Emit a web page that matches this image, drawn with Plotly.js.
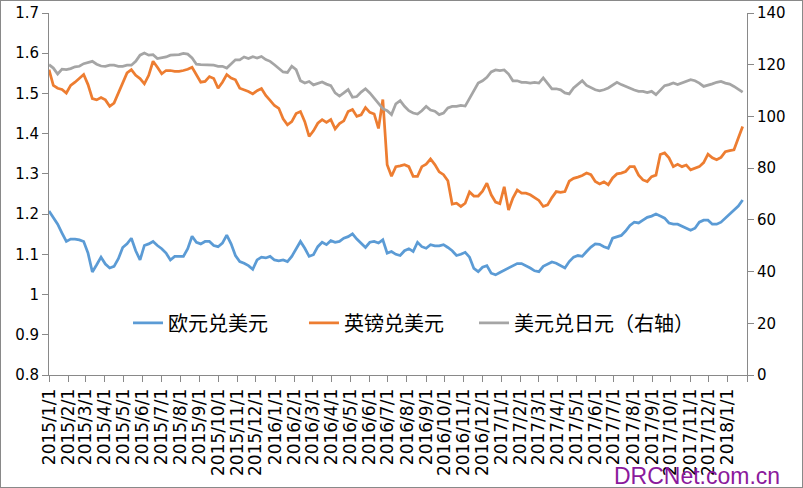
<!DOCTYPE html>
<html>
<head>
<meta charset="utf-8">
<script src="https://cdn.plot.ly/plotly-3.0.1.min.js"></script>
<style>
  html, body { margin: 0; padding: 0; background: #fff; }
  #wrap { position: relative; width: 803px; height: 488px; }
  #chart { width: 803px; height: 488px; }
  #frame { position: absolute; left: 0; top: 0; width: 803px; height: 488px;
           box-sizing: border-box; border: 1px solid #898989; pointer-events: none; }
</style>
</head>
<body>
<div id="wrap">
  <div id="chart"></div>
  <div id="frame"></div>
</div>
<script>
// weekly readings (every 7 days from 2015/1/1)
const eurUsd = [
  1.208, 1.192, 1.175, 1.153, 1.132, 1.138, 1.138, 1.136, 1.132, 1.103,
  1.056, 1.074, 1.093, 1.076, 1.066, 1.070, 1.089, 1.117, 1.126, 1.140,
  1.109, 1.086, 1.122, 1.126, 1.132, 1.122, 1.114, 1.103, 1.086, 1.095,
  1.095, 1.095, 1.114, 1.145, 1.130, 1.126, 1.132, 1.132, 1.122, 1.119,
  1.128, 1.148, 1.126, 1.097, 1.082, 1.078, 1.072, 1.063, 1.086, 1.093,
  1.091, 1.095, 1.086, 1.084, 1.086, 1.082, 1.095, 1.115, 1.132, 1.115,
  1.095, 1.099, 1.119, 1.130, 1.124, 1.134, 1.130, 1.132, 1.140, 1.144,
  1.151, 1.138, 1.128, 1.117, 1.130, 1.132, 1.128, 1.136, 1.103, 1.107,
  1.100, 1.097, 1.109, 1.114, 1.107, 1.130, 1.119, 1.115, 1.124, 1.121,
  1.121, 1.124, 1.117, 1.109, 1.097, 1.100, 1.105, 1.093, 1.065, 1.057,
  1.068, 1.072, 1.053, 1.049, 1.055, 1.061, 1.066, 1.072, 1.077, 1.077,
  1.072, 1.066, 1.059, 1.057, 1.070, 1.076, 1.081, 1.078, 1.072, 1.066,
  1.082, 1.093, 1.097, 1.095, 1.107, 1.118, 1.126, 1.125, 1.119, 1.115,
  1.140, 1.143, 1.147, 1.158, 1.172, 1.180, 1.178, 1.185, 1.192, 1.195,
  1.200, 1.195, 1.190, 1.178, 1.175, 1.175, 1.170, 1.165, 1.160, 1.165,
  1.180, 1.185, 1.185, 1.175, 1.175, 1.180, 1.190, 1.200, 1.210, 1.220,
  1.235
];

const gbpUsd = [
  1.559, 1.520, 1.513, 1.510, 1.501, 1.520, 1.528, 1.538, 1.547, 1.522,
  1.487, 1.484, 1.490, 1.484, 1.468, 1.476, 1.501, 1.522, 1.551, 1.559,
  1.545, 1.537, 1.524, 1.545, 1.580, 1.565, 1.549, 1.557, 1.557, 1.555,
  1.555, 1.557, 1.560, 1.565, 1.547, 1.528, 1.530, 1.542, 1.537, 1.513,
  1.528, 1.547, 1.538, 1.534, 1.513, 1.509, 1.505, 1.499, 1.507, 1.512,
  1.495, 1.483, 1.470, 1.463, 1.437, 1.422, 1.430, 1.450, 1.455, 1.430,
  1.393, 1.407, 1.426, 1.435, 1.428, 1.435, 1.412, 1.425, 1.432, 1.455,
  1.460, 1.443, 1.447, 1.465, 1.453, 1.449, 1.413, 1.485, 1.323, 1.294,
  1.318, 1.320, 1.323, 1.318, 1.294, 1.294, 1.318, 1.324, 1.337, 1.323,
  1.305, 1.298, 1.283, 1.225, 1.227, 1.219, 1.227, 1.255, 1.245, 1.245,
  1.257, 1.277, 1.248, 1.230, 1.226, 1.268, 1.210, 1.240, 1.260, 1.252,
  1.252, 1.248, 1.240, 1.234, 1.219, 1.223, 1.241, 1.256, 1.254, 1.256,
  1.282, 1.289, 1.292, 1.296, 1.302, 1.298, 1.281, 1.275, 1.280, 1.273,
  1.290, 1.300, 1.302, 1.306, 1.318, 1.318, 1.297, 1.285, 1.281, 1.293,
  1.297, 1.348, 1.352, 1.340, 1.318, 1.324, 1.318, 1.322, 1.310, 1.314,
  1.318, 1.328, 1.349, 1.340, 1.335, 1.341, 1.355, 1.358, 1.360, 1.389,
  1.418
];

const usdJpy = [
  120.0, 118.7, 116.4, 118.3, 118.1, 118.5, 119.2, 119.4, 120.4, 121.0,
  121.3, 120.2, 119.5, 119.4, 119.8, 119.8, 119.4, 119.4, 119.8, 119.8,
  121.3, 123.7, 124.5, 123.7, 123.9, 122.4, 122.6, 123.0, 123.7, 123.9,
  123.9, 124.4, 124.1, 122.6, 120.2, 120.0, 120.0, 120.0, 119.8, 119.4,
  119.4, 118.7, 120.5, 121.9, 121.9, 123.0, 122.4, 123.1, 122.6, 123.2,
  122.0, 121.3, 120.0, 118.7, 117.2, 117.0, 119.4, 118.1, 113.8, 112.9,
  113.5, 112.2, 112.9, 113.3, 112.5, 111.9, 109.1, 107.9, 109.1, 110.4,
  107.4, 107.7, 109.4, 110.7, 109.1, 107.1, 105.2, 103.0, 102.2, 100.7,
  104.9, 106.1, 103.9, 102.2, 101.3, 100.9, 102.2, 103.9, 102.5, 102.0,
  100.7, 101.3, 103.3, 103.9, 103.9, 104.3, 104.0, 106.8, 109.7, 112.9,
  113.8, 115.1, 117.2, 118.0, 117.7, 118.0, 116.4, 113.8, 113.8, 113.2,
  113.2, 112.9, 113.2, 112.9, 114.9, 112.9, 110.7, 110.7, 110.3, 109.1,
  108.7, 111.0, 112.3, 113.8, 112.0, 111.0, 110.3, 109.9, 110.3, 111.0,
  112.0, 113.2, 112.3, 111.6, 110.7, 110.2, 109.7, 109.7, 109.2, 109.7,
  108.4, 110.3, 111.9, 112.3, 112.9, 112.3, 112.9, 113.5, 114.2, 113.8,
  112.9, 111.6, 112.0, 112.6, 113.2, 113.5, 112.9, 112.5, 111.6, 110.6,
  109.4
];

const tickLabels = [
  '2015/1/1', '2015/2/1', '2015/3/1', '2015/4/1', '2015/5/1', '2015/6/1',
  '2015/7/1', '2015/8/1', '2015/9/1', '2015/10/1', '2015/11/1', '2015/12/1',
  '2016/1/1', '2016/2/1', '2016/3/1', '2016/4/1', '2016/5/1', '2016/6/1',
  '2016/7/1', '2016/8/1', '2016/9/1', '2016/10/1', '2016/11/1', '2016/12/1',
  '2017/1/1', '2017/2/1', '2017/3/1', '2017/4/1', '2017/5/1', '2017/6/1',
  '2017/7/1', '2017/8/1', '2017/9/1', '2017/10/1', '2017/11/1', '2017/12/1',
  '2018/1/1', '2018/2/1'
];

const leftTicks = [0.8, 0.9, 1, 1.1, 1.2, 1.3, 1.4, 1.5, 1.6, 1.7];
const seriesNames = ['欧元兑美元', '英镑兑美元', '美元兑日元（右轴）'];

const DAY = 86400000;
const start = Date.UTC(2015, 0, 1);
const weekDates = eurUsd.map((_, i) => new Date(start + i * 7 * DAY).toISOString().slice(0, 10));

const toIso = (s) => {
  const [y, m, d] = s.split('/');
  return y + '-' + m.padStart(2, '0') + '-' + d.padStart(2, '0');
};
const tickDates = tickLabels.map(toIso);
// the last tick sits on the right axis and carries no label
const tickText = tickLabels.map((s, i) => (i === tickLabels.length - 1 ? '' : s));

const axisGrey = '#898989';
const tickFont = { family: 'DejaVu Sans, sans-serif', size: 15, color: '#000' };

const traces = [
  {
    type: 'scatter', mode: 'lines', name: seriesNames[0],
    x: weekDates, y: eurUsd, legend: 'legend',
    line: { color: '#5B9BD5', width: 2.75 }
  },
  {
    type: 'scatter', mode: 'lines', name: seriesNames[1],
    x: weekDates, y: gbpUsd, legend: 'legend2',
    line: { color: '#ED7D31', width: 2.75 }
  },
  {
    type: 'scatter', mode: 'lines', name: seriesNames[2],
    x: weekDates, y: usdJpy, yaxis: 'y2', legend: 'legend3',
    line: { color: '#A5A5A5', width: 2.75 }
  }
];

// one legend box per series, so the three entries sit where the original has them
const legendBox = (x) => ({
  orientation: 'h',
  x: x, xanchor: 'left',
  y: 0.144, yanchor: 'middle',
  bgcolor: 'rgba(0,0,0,0)',
  font: { family: 'Noto Sans CJK SC, sans-serif', size: 20, color: '#000' }
});

const layout = {
  width: 803,
  height: 488,
  margin: { l: 49, r: 56, t: 13, b: 113, pad: 0 },
  paper_bgcolor: '#fff',
  plot_bgcolor: '#fff',
  showlegend: true,
  xaxis: {
    type: 'date',
    range: [tickDates[0], tickDates[tickDates.length - 1]],
    tickmode: 'array',
    tickvals: tickDates,
    ticktext: tickText,
    tickangle: -90,
    ticks: 'outside', ticklen: 6, tickcolor: axisGrey,
    showline: true, linecolor: axisGrey, linewidth: 1,
    showgrid: false, zeroline: false,
    tickfont: { family: 'DejaVu Sans, sans-serif', size: 17, color: '#000' }
  },
  yaxis: {
    range: [0.8, 1.7],
    tickmode: 'array',
    tickvals: leftTicks,
    ticktext: leftTicks.map(String),
    ticks: 'outside', ticklen: 6, tickcolor: axisGrey,
    showline: true, linecolor: axisGrey, linewidth: 1,
    showgrid: false, zeroline: false,
    tickfont: tickFont
  },
  yaxis2: {
    overlaying: 'y', side: 'right',
    range: [0, 140], dtick: 20,
    ticks: 'outside', ticklen: 6, tickcolor: axisGrey,
    showline: true, linecolor: axisGrey, linewidth: 1,
    showgrid: false, zeroline: false,
    tickfont: tickFont
  },
  legend: legendBox(0.1132),
  legend2: legendBox(0.3653),
  legend3: legendBox(0.6089),
  annotations: [
    {
      xref: 'paper', yref: 'paper',
      x: 0.8066, xanchor: 'left',
      y: -0.278, yanchor: 'middle',
      text: 'DRCNet.com.cn', showarrow: false,
      font: { family: 'Liberation Sans, sans-serif', size: 23, color: '#8B1A9C' }
    }
  ]
};

Plotly.newPlot('chart', traces, layout, { staticPlot: true, displayModeBar: false });
</script>
</body>
</html>
